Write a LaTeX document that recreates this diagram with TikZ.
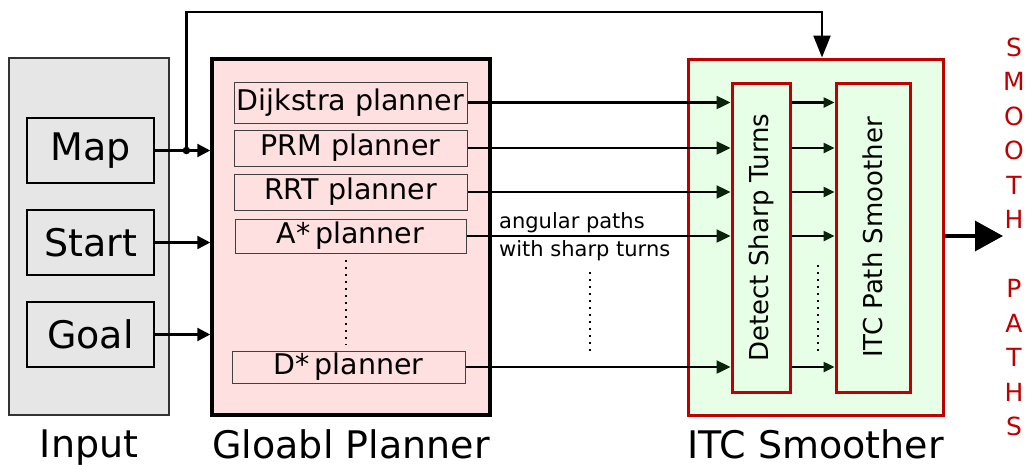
\documentclass[tikz,border=0pt]{standalone}
\usepackage{fontspec}
\setmainfont{DejaVu Sans}
\usetikzlibrary{positioning,arrows.meta}

\definecolor{inputgray}{RGB}{230,230,230}
\definecolor{planpink}{RGB}{255,224,224}
\definecolor{smoothgreen}{RGB}{230,255,230}
\definecolor{smoothred}{RGB}{190,0,0}
\definecolor{tipgreen}{RGB}{10,35,10}

\begin{document}
\begin{tikzpicture}[
  x=1pt, y=-1pt,
  font=\fontsize{28.5}{32}\selectfont,
  group/.style={rectangle, minimum height=356pt, inner sep=0pt},
  inbox/.style={rectangle, draw=black, line width=2.8pt, fill=inputgray, minimum width=127pt, minimum height=65pt, font=\fontsize{38}{40}\selectfont},
  planbox/.style={rectangle, draw=black!75, line width=1pt, fill=planpink, minimum width=233pt, inner sep=0pt},
  stage/.style={rectangle, draw=smoothred, line width=3pt, fill=smoothgreen, minimum height=309pt, inner sep=0pt},
  caption/.style={font=\fontsize{38}{40}\selectfont, inner sep=0pt},
  arrow/.style={-{Triangle[length=14pt, width=13pt, color=tipgreen]}, line width=2.4pt},
  smallarrow/.style={-{Triangle[length=11pt, width=10pt, color=tipgreen]}, line width=2.4pt},
  bigarrow/.style={-{Triangle[length=28pt, width=30pt]}, line width=3.2pt},
  dots/.style={line width=1.5pt, dash pattern=on 2pt off 5pt}
  ]
  \useasboundingbox (0,0) rectangle (1025,464);

  % input
  \node[group, draw=black!80, line width=2.2pt, fill=inputgray, minimum width=160pt, minimum height=357pt] (input) at (89,236.5) {};
  \node[inbox] (map) at (90.5,150.5) {Map};
  \node[inbox] (start) at (90.5,242.5) {Start};
  \node[inbox] (goal) at (90.5,334.5) {Goal};
  \node[caption, below=13pt of input] (inputlbl) {Input};

  % global planner
  \node[group, draw=black, line width=3.5pt, fill=planpink, minimum width=278pt] (global) at (351,237) {};
  \node[planbox, minimum height=41pt] (dijkstra) at (350.5,102.5) {Dijkstra planner};
  \node[planbox, minimum height=36pt] (prm) at (350.5,148) {PRM planner};
  \node[planbox, minimum height=36pt] (rrt) at (350.5,192) {RRT planner};
  \node[planbox, minimum height=34pt, minimum width=231pt] (astar) at (350.5,236) {A*\,planner};
  \node[planbox, minimum height=32pt] (dstar) at (348.5,367) {D*\,planner};
  \draw[dots] (346,260) -- (346,345);
  \node[caption, below=13pt of global] (globallbl) {Gloabl Planner};

  % itc smoother
  \node[group, draw=smoothred, line width=3pt, fill=smoothgreen, minimum width=255pt] (itc) at (815.5,237) {};
  \node[stage, minimum width=58pt, label={[rotate=90, font=\fontsize{26}{30}\selectfont]center:Detect Sharp Turns}] (detect) at (761,237.5) {};
  \node[stage, minimum width=74pt, label={[rotate=90, font=\fontsize{26}{30}\selectfont]center:ITC Path Smoother}] (smoother) at (873,237.5) {};
  \draw[dots] (818,265) -- (818,352);
  \node[caption, below=13pt of itc] (itclbl) {ITC Smoother};

  % inputs to planner
  \path (map.east) -- ++(31pt,0) coordinate (jn);
  \draw[arrow, -{Triangle[length=13pt, width=13pt]}] (map.east) -- (map.east -| global.west);
  \draw[arrow, -{Triangle[length=13pt, width=13pt]}] (start.east) -- (start.east -| global.west);
  \draw[arrow, -{Triangle[length=13pt, width=13pt]}] (goal.east) -- (goal.east -| global.west);
  \fill (jn) circle (3.8pt);
  \coordinate (feed) at (822,12);
  \draw[-{Triangle[length=22pt, width=17pt]}, line width=2.4pt] (jn) |- (feed) -- (feed |- itc.north);

  % planners to smoother
  \foreach \p in {dijkstra,prm,rrt,astar,dstar} {
    \draw[arrow] (\p.east) -- (\p.east -| detect.west);
    \draw[smallarrow] (\p.east -| detect.east) -- (\p.east -| smoother.west);
  }
  \node[anchor=north west, align=left, inner sep=0pt, font=\fontsize{21}{28}\selectfont] (angular) at (499,212) {angular paths\\with sharp turns};
  \draw[dots] (590,272) -- (590,355);

  % output
  \coordinate (out) at (1003,236);
  \draw[bigarrow] (itc.east |- astar.east) -- (out);
  \node[text=smoothred, align=center, inner sep=0pt, font=\fontsize{25}{34.5}\selectfont] (result) at (1014,237) {S\\M\\O\\O\\T\\H\\[34.5pt]P\\A\\T\\H\\S};
\end{tikzpicture}
\end{document}
